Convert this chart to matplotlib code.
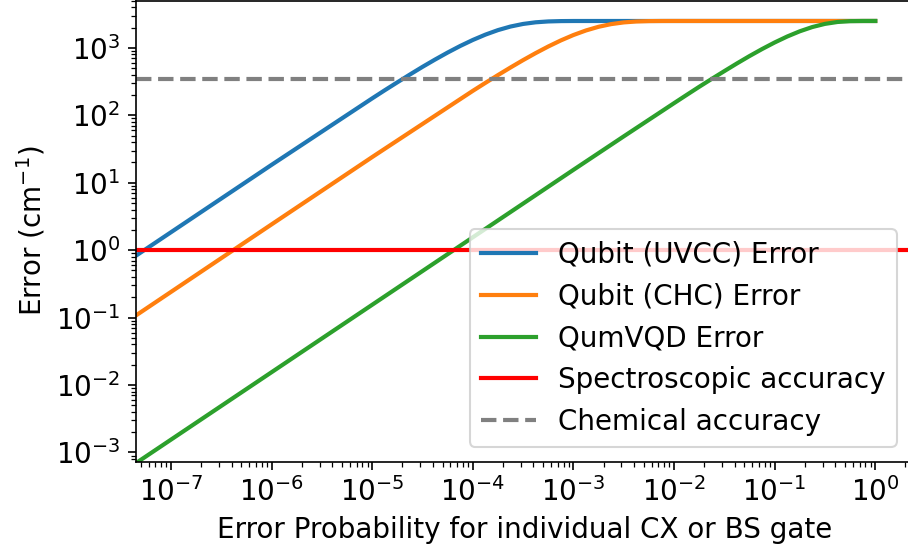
import numpy as np
import matplotlib
matplotlib.use("Agg")
import matplotlib.pyplot as plt

# Werte (Fehlerwahrscheinlichkeit p -> Fehler in cm^-1)
p_uvcc = [4.5e-8, 1e-6, 1e-5, 1.334e-5, 1.778e-5, 2.371e-5, 3.162e-5, 4.217e-5,
          5.623e-5, 7.499e-5, 1e-4, 1.334e-4, 1.778e-4, 2.371e-4, 3.162e-4,
          4.217e-4, 5.623e-4, 7.499e-4, 1e-3, 1e-2, 1.0]
err_uvcc = [0.83, 18.4, 178, 235, 308, 402, 522, 670,
            851, 1065, 1307, 1568, 1830, 2068, 2259,
            2390, 2461, 2490, 2498, 2500, 2500]

p_chc = [4.5e-8, 1e-6, 1e-5, 1e-4, 1.334e-4, 1.778e-4, 2.371e-4, 3.162e-4,
         4.217e-4, 5.623e-4, 7.499e-4, 1e-3, 1.334e-3, 1.778e-3, 2.371e-3,
         3.162e-3, 4.217e-3, 5.623e-3, 7.499e-3, 1e-2, 1e-1, 1.0]
err_chc = [0.108, 2.41, 24.0, 230, 302, 394, 511, 657,
           835, 1046, 1287, 1547, 1809, 2050, 2246,
           2381, 2457, 2489, 2498, 2500, 2500, 2500]

p_qum = [4.5e-8, 1e-6, 1e-5, 1e-4, 1e-3, 3.162e-3, 1e-2, 1.334e-2, 1.778e-2,
         2.371e-2, 3.162e-2, 4.217e-2, 5.623e-2, 7.499e-2, 0.1, 0.1334,
         0.1778, 0.2371, 0.3162, 0.4217, 0.5623, 0.7499, 1.0]
err_qum = [6.98e-4, 0.0155, 0.155, 1.55, 15.5, 48.6, 151, 200, 264,
           346, 451, 586, 754, 958, 1199, 1471,
           1757, 2033, 2263, 2416, 2485, 2499, 2500]

spectro_acc = 1.0       # cm^-1
chem_acc = 349.755      # cm^-1 (1 kcal/mol)

plt.rcParams['font.size'] = 13.3
plt.rcParams['xtick.major.size'] = 4
plt.rcParams['ytick.major.size'] = 4
plt.rcParams['xtick.minor.size'] = 2.3
plt.rcParams['ytick.minor.size'] = 2.3

fig = plt.figure(figsize=(908/150, 550/150), dpi=150)
ax = fig.add_axes([136/908, 88.3/550, 778/908, 461.2/550])

ax.plot(p_uvcc, err_uvcc, color='C0', linewidth=2, label='Qubit (UVCC) Error')
ax.plot(p_chc, err_chc, color='C1', linewidth=2, label='Qubit (CHC) Error')
ax.plot(p_qum, err_qum, color='C2', linewidth=2, label='QumVQD Error')
ax.axhline(spectro_acc, color='red', linewidth=2, label='Spectroscopic accuracy')
ax.axhline(chem_acc, color='gray', linestyle='--', linewidth=2, label='Chemical accuracy')

ax.set_xscale('log')
ax.set_yscale('log')
ax.set_xlim(4.49e-8, 2.43)
ax.set_ylim(7.3e-4, 5030)
ax.set_xticks([1e-7, 1e-6, 1e-5, 1e-4, 1e-3, 1e-2, 1e-1, 1e0])
ax.set_yticks([1e-3, 1e-2, 1e-1, 1e0, 1e1, 1e2, 1e3])

ax.set_xlabel('Error Probability for individual CX or BS gate')
ax.set_ylabel('Error (cm$^{-1}$)')
ax.legend(loc='lower right', bbox_to_anchor=(897/908, 103/550),
          bbox_transform=fig.transFigure, borderaxespad=0)

fig.savefig('out.png', dpi=150)
